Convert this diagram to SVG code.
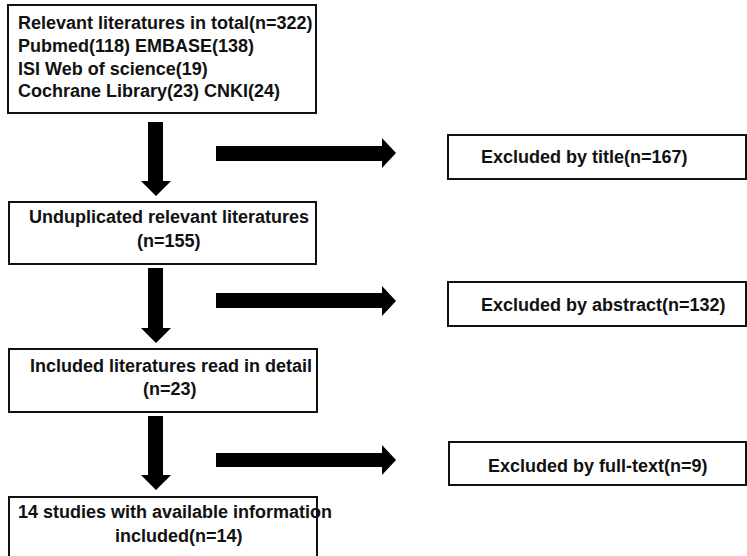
<svg xmlns="http://www.w3.org/2000/svg" width="747" height="556" viewBox="0 0 747 556">
<style>
.box{fill:#fff;stroke:#111;stroke-width:2}
.t{font-family:"Liberation Sans",Arial,sans-serif;font-weight:bold;font-size:18px;fill:#111}
.arr{fill:#000}
</style>
<rect x="0" y="0" width="747" height="556" fill="#fff"/>
<g id="connectors">
<polygon class="arr" points="148,122 163,122 163,181 171,181 156,196 141,181 148,181"/>
<polygon class="arr" points="148,268 163,268 163,328 171,328 156,343 141,328 148,328"/>
<polygon class="arr" points="148,416 163,416 163,475 171,475 156,490 141,475 148,475"/>
<polygon class="arr" points="216,146 382,146 382,138 396,153 382,168 382,161 216,161"/>
<polygon class="arr" points="216,293 382,293 382,286 396,301 382,316 382,308 216,308"/>
<polygon class="arr" points="216,453 382,453 382,445 396,460 382,475 382,467 216,467"/>
</g>
<g id="total">
<rect class="box" x="8" y="5" width="308" height="108"/>
<text class="t" x="18" y="29">Relevant literatures in total(n=322)</text>
<text class="t" x="18" y="52">Pubmed(118) EMBASE(138)</text>
<text class="t" x="18" y="75">ISI Web of science(19)</text>
<text class="t" x="18" y="97">Cochrane Library(23) CNKI(24)</text>
</g>
<g id="unduplicated">
<rect class="box" x="9" y="202" width="307" height="62"/>
<text class="t" x="29" y="223">Unduplicated relevant literatures</text>
<text class="t" x="137" y="247">(n=155)</text>
</g>
<g id="detail">
<rect class="box" x="9" y="349" width="308" height="63"/>
<text class="t" x="30" y="372">Included literatures read in detail</text>
<text class="t" x="143" y="395">(n=23)</text>
</g>
<g id="included">
<rect class="box" x="9" y="497" width="308" height="70"/>
<text class="t" x="18" y="518">14 studies with available information</text>
<text class="t" x="115" y="542">included(n=14)</text>
</g>
<g id="ex-title">
<rect class="box" x="448" y="135" width="298" height="44"/>
<text class="t" x="481" y="163">Excluded by title(n=167)</text>
</g>
<g id="ex-abstract">
<rect class="box" x="448" y="282" width="298" height="44"/>
<text class="t" x="481" y="311">Excluded by abstract(n=132)</text>
</g>
<g id="ex-fulltext">
<rect class="box" x="449" y="442" width="297" height="43"/>
<text class="t" x="488" y="472">Excluded by full-text(n=9)</text>
</g>
</svg>
